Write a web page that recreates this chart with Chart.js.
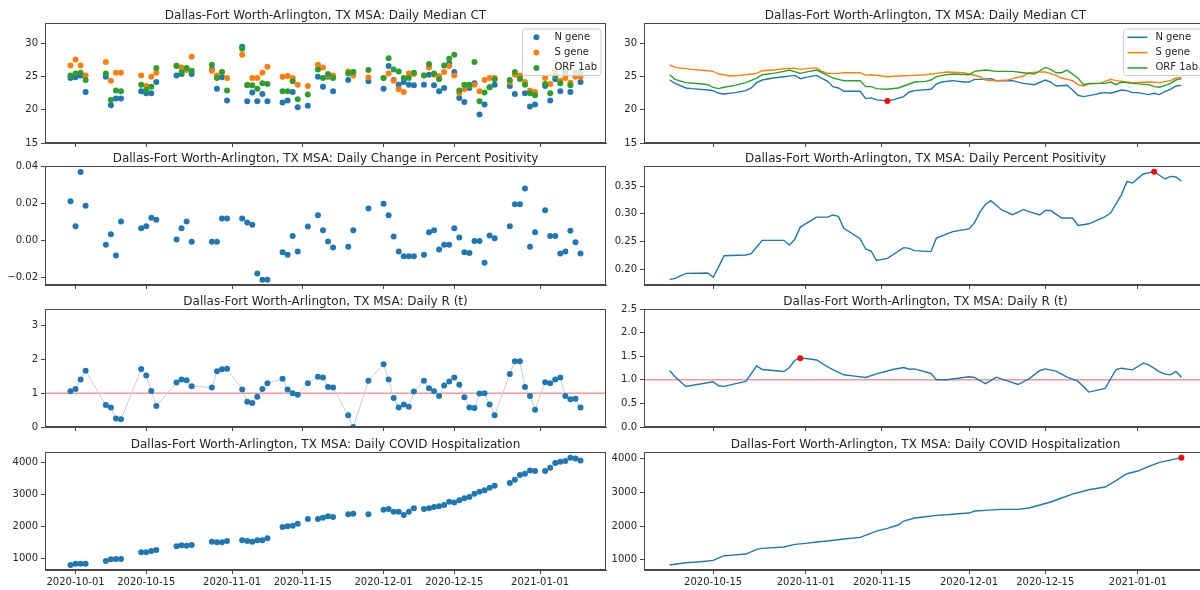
<!DOCTYPE html>
<html>
<head>
<meta charset="utf-8">
<script src="https://cdn.jsdelivr.net/npm/chart.js@4.4.0/dist/chart.umd.min.js"></script>
<style>
  html, body { margin: 0; padding: 0; background: #fff; width: 1200px; height: 590px; overflow: hidden; }
  canvas { position: absolute; }
</style>
</head>
<body>
<script>
// Dallas-Fort Worth-Arlington panels. x = days counted from 2020-10-01

// left column: daily samples
const sampleDays = [-1, 0, 1, 2, 6, 7, 8, 9, 13, 14, 15, 16, 20, 21, 22, 23, 27, 28, 29, 30,
  33, 34, 35, 36, 37, 38, 41, 42, 43, 44, 46, 48, 49, 50, 51, 54, 55, 58,
  61, 62, 63, 64, 65, 66, 67, 69, 70, 71, 72, 73, 74, 75, 76, 77, 78, 79, 80, 81, 82, 83,
  86, 87, 88, 89, 90, 91, 93, 94, 95, 96, 97, 98, 99, 100];

const ctN = [24.8, 24.9, 25.2, 22.7, 25.0, 20.7, 21.7, 21.7, 22.8, 22.5, 22.5, 24.2,
  25.2, 25.4, 26.2, 25.4, 26.1, 23.2, 24.9, 21.4, 29.5, 21.3, 22.6, 21.3, 22.4, 21.3,
  21.1, 21.4, 22.7, 20.4, 20.6, 25.0, 23.5, 25.0, 22.8, 24.5, 25.7, 24.3,
  23.2, 26.6, 24.5, 23.8, 24.2, 23.8, 23.7,
  23.8, 25.3, 23.7, 22.8, 23.3, 27.0, 25.7, 21.8, 21.2, 23.3, 24.0, 19.3, 20.8, 23.4, 23.8,
  23.6, 22.4, 24.7, 22.5, 20.5, 20.8, 23.6, 21.4, 24.6, 22.8, 25.5, 22.7, 25.2, 24.2];
const ctS = [26.7, 27.6, 26.7, 25.2, 27.2, 24.4, 25.6, 25.6, 25.2, 23.6, 25.0, 25.6,
  26.7, 26.4, 26.0, 28.0, 25.9, 25.2, 25.7, 24.8, 28.3, 23.8, 24.8, 24.8, 25.6, 26.5,
  25.0, 25.1, 24.8, 23.8, 23.6, 26.8, 26.4, 25.2, 25.2, 25.8, 25.2, 24.9,
  24.8, 25.5, 24.4, 23.1, 22.7, 25.5, 25.4,
  25.2, 26.4, 25.3, 25.1, 25.7, 26.6, 25.2, 22.5, 23.1, 23.7, 23.8, 22.8, 24.5, 24.8, 24.8,
  24.2, 25.3, 25.2, 24.2, 22.9, 22.7, 24.8, 23.9, 25.9, 24.4, 24.8, 24.1, 25.0, 25.0];
const ctORF = [25.2, 25.5, 25.6, 24.5, 25.5, 21.5, 22.9, 22.8, 23.8, 23.0, 23.5, 26.3,
  26.6, 25.7, 26.3, 25.9, 26.8, 24.8, 25.7, 22.9, 29.2, 23.7, 23.7, 23.2, 24.0, 23.9,
  22.8, 22.8, 24.3, 21.6, 22.3, 26.1, 24.8, 25.4, 24.8, 25.5, 25.7, 26.0,
  24.8, 27.8, 26.1, 25.8, 24.8, 24.8, 25.6,
  25.2, 26.9, 25.5, 24.6, 26.7, 27.7, 28.3, 22.9, 23.8, 23.8, 27.2, 21.3, 22.6, 23.4, 24.6,
  24.5, 25.7, 24.7, 23.8, 22.5, 22.2, 23.9, 22.5, 25.1, 24.0, 25.8, 23.7, 25.6, 25.6];
const positivityChange = [0.0211, 0.0076, 0.037, 0.0186, -0.0025, 0.0032, -0.0083, 0.0101,
  0.0065, 0.0076, 0.0121, 0.011, 0.0004, 0.0065, 0.0101, -0.0009, -0.0009, -0.0009, 0.0117, 0.0117,
  0.0117, 0.0096, 0.0083, -0.018, -0.0215, -0.0215, -0.0065, -0.0079, 0.0023, -0.0061,
  0.0074, 0.0135, 0.0054, -0.0007, -0.004, -0.0036, 0.0054, 0.0171,
  0.0197, 0.0135, 0.002, -0.0061, -0.0087, -0.0087, -0.0087,
  -0.0079, 0.0043, 0.0054, -0.0051, -0.0025, -0.0025, 0.0065, 0.0014, -0.0065, -0.0069,
  -0.0004, -0.0004, -0.0123, 0.0025, 0.0011,
  0.0076, 0.0195, 0.0195, 0.028, -0.0036, 0.0043, 0.0162, 0.0022, 0.0022, -0.0072,
  -0.0061, 0.0051, -0.0011, -0.0072];
const rtDaily = [1.06, 1.13, 1.41, 1.67, 0.65, 0.58, 0.25, 0.23, 1.72, 1.53, 1.07, 0.62,
  1.32, 1.41, 1.39, 1.21, 1.17, 1.65, 1.71, 1.73, 1.11, 0.75, 0.71, 0.9, 1.13, 1.3,
  1.43, 1.11, 1.0, 0.96, 1.3, 1.49, 1.47, 1.19, 1.17, 0.35, 0.0, 1.37,
  1.86, 1.41, 0.86, 0.58, 0.67, 0.6, 1.05,
  1.37, 1.15, 1.06, 0.92, 1.23, 1.35, 1.47, 1.25, 0.88, 0.58, 0.56, 0.99, 1.0, 0.67, 0.35,
  1.57, 1.95, 1.95, 1.19, 0.92, 0.51, 1.33, 1.3, 1.41, 1.47, 0.92, 0.82, 0.84, 0.58];
const hospDaily = [791, 833, 833, 833, 916, 969, 979, 979, 1188, 1188, 1230, 1261,
  1376, 1408, 1397, 1418, 1522, 1502, 1502, 1543, 1564, 1543, 1522, 1564, 1564, 1627,
  1982, 2003, 2024, 2087, 2233, 2233, 2275, 2317, 2296, 2379, 2400, 2379,
  2526, 2547, 2463, 2463, 2358, 2463, 2567,
  2547, 2567, 2609, 2630, 2672, 2776, 2755, 2818, 2881, 2923, 3027, 3090, 3132, 3215, 3278,
  3362, 3466, 3612, 3654, 3759, 3738, 3738, 3842, 3989, 4031, 4051, 4155, 4134, 4072];

// right column: smoothed series, [day, value]
const avgCtN = [[6,24.5],[7,24.0],[9,23.3],[10,23.2],[13,23.0],[14,22.9],[15,22.5],[16,22.4],[18,22.6],
  [20,22.9],[21,23.3],[22,24.1],[23,24.5],[25,24.8],[27,25.0],[29,25.2],[30,24.7],[31,24.9],[33,25.2],
  [35,24.3],[36,23.5],[37,23.3],[38,22.8],[41,22.8],[42,21.7],[43,21.8],[44,21.5],[46,21.35],[47,21.5],
  [49,22.0],[50,22.7],[51,22.9],[54,23.1],[55,23.9],[56,24.2],[58,24.4],[60,24.2],[61,24.2],[62,24.6],
  [63,24.6],[65,24.7],[66,24.4],[69,24.4],[71,24.0],[73,23.8],[75,24.5],[76,24.2],[77,23.6],[79,23.7],
  [80,23.0],[81,22.2],[82,22.0],[84,22.3],[85,22.5],[86,22.6],[87,22.5],[89,23.0],[90,22.9],[91,22.6],
  [92,22.6],[94,22.3],[95,22.5],[96,22.3],[97,22.8],[98,23.1],[99,23.6],[100,23.7]];
const avgCtS = [[6,26.8],[7,26.4],[10,26.1],[13,25.9],[14,25.8],[15,25.4],[16,25.3],[17,25.1],[19,25.2],
  [21,25.4],[22,25.5],[23,25.9],[25,26.0],[27,26.2],[29,26.3],[30,26.1],[32,26.3],[33,26.3],[34,25.8],
  [35,25.5],[37,25.5],[38,25.6],[41,25.6],[42,25.2],[43,25.3],[45,25.1],[46,25.0],[48,25.1],[51,25.2],
  [53,25.3],[55,25.5],[57,25.7],[60,25.6],[61,25.4],[63,25.0],[64,24.5],[66,24.4],[68,24.5],[69,24.7],
  [71,25.1],[72,25.6],[74,25.7],[75,25.7],[77,25.2],[78,24.8],[80,24.4],[81,23.8],[82,23.6],[83,23.9],
  [85,24.0],[86,24.3],[87,24.6],[88,24.4],[90,24.2],[91,24.1],[94,24.2],[96,24.1],[98,24.4],[99,24.8],[100,24.9]];
const avgCtORF = [[6,25.3],[7,24.6],[9,24.1],[12,23.9],[13,23.8],[14,23.4],[15,23.2],[16,23.4],[18,23.7],
  [20,24.1],[22,24.8],[23,25.3],[25,25.5],[27,25.8],[28,26.0],[30,25.5],[31,25.7],[33,26.0],[34,25.6],
  [36,24.8],[37,24.6],[38,24.4],[41,24.4],[42,23.5],[43,23.5],[44,23.2],[46,23.1],[48,23.3],[49,23.6],
  [51,24.2],[53,24.3],[54,24.5],[55,25.0],[56,25.2],[58,25.4],[61,25.3],[62,25.8],[64,26.0],[66,25.8],
  [69,25.8],[71,25.6],[73,25.4],[74,25.9],[75,26.4],[76,26.1],[77,25.6],[78,25.6],[79,26.0],[81,24.8],
  [82,23.8],[83,24.0],[86,24.0],[87,24.2],[88,23.8],[89,24.2],[91,24.0],[94,23.8],[95,23.5],[96,23.4],
  [97,23.7],[98,24.0],[99,24.5],[100,24.7]];
const avgPositivity = [[6,0.1807],[7,0.183],[9,0.192],[13,0.1927],[14,0.185],[15,0.204],[16,0.224],
  [20,0.2254],[21,0.228],[23,0.252],[27,0.252],[28,0.2435],[29,0.2538],[30,0.276],[33,0.294],[35,0.294],
  [36,0.298],[37,0.2955],[38,0.2738],[41,0.255],[42,0.2363],[43,0.2327],[44,0.2157],[46,0.2193],
  [49,0.2387],[50,0.2375],[51,0.2333],[54,0.2315],[55,0.256],[58,0.2677],[61,0.2726],[62,0.284],
  [63,0.303],[64,0.317],[65,0.324],[67,0.307],[69,0.2986],[71,0.308],[72,0.304],[74,0.298],[75,0.306],
  [76,0.306],[78,0.2925],[80,0.2925],[81,0.279],[83,0.282],[86,0.295],[87,0.3016],[88,0.3185],
  [89,0.335],[90,0.3584],[91,0.356],[93,0.3723],[95,0.3765],[97,0.3633],[98,0.368],[99,0.3669],[100,0.3596]];
const avgRt = [[6,1.197],[7,1.063],[9,0.86],[14,0.958],[15,0.873],[16,0.86],[20,0.965],[22,1.296],
  [23,1.218],[27,1.176],[28,1.26],[29,1.415],[30,1.458],[31,1.451],[33,1.42],[35,1.275],[36,1.218],
  [38,1.106],[40,1.077],[42,1.05],[44,1.127],[47,1.218],[49,1.26],[50,1.225],[51,1.232],[54,1.134],
  [55,1.0],[57,1.0],[61,1.063],[62,1.05],[64,0.92],[66,1.056],[70,0.9],[72,1.02],[74,1.197],[75,1.232],
  [77,1.183],[79,1.056],[81,0.97],[83,0.74],[86,0.817],[88,1.218],[89,1.246],[91,1.211],[93,1.352],
  [94,1.317],[96,1.169],[97,1.12],[98,1.106],[99,1.176],[100,1.056]];
const avgHosp = [[6,842],[9,911],[11,931],[13,960],[14,980],[16,1119],[17,1129],[20,1168],[22,1307],
  [23,1337],[27,1376],[29,1455],[31,1485],[33,1525],[35,1554],[38,1614],[41,1663],[44,1851],[46,1931],
  [48,2030],[49,2149],[51,2238],[53,2277],[55,2317],[57,2337],[59,2366],[61,2386],[62,2446],[64,2465],
  [67,2495],[70,2495],[72,2535],[74,2624],[76,2713],[78,2832],[80,2950],[83,3079],[86,3158],[88,3347],
  [90,3554],[92,3634],[94,3772],[96,3891],[100,4030]];

// ticks
const leftTickDays = [0, 14, 31, 45, 61, 75, 92];
const rightTickDays = [14, 31, 45, 61, 75, 92];
const ctTicks = [15, 20, 25, 30];
const changeTicks = [-0.02, 0, 0.02, 0.04];
const positivityTicks = [0.20, 0.25, 0.30, 0.35];
const rtLeftTicks = [0, 1, 2, 3];
const rtRightTicks = [0, 0.5, 1, 1.5, 2, 2.5];
const hospTicks = [1000, 2000, 3000, 4000];
const rtThreshold = 1;

const REGION = 'Dallas-Fort Worth-Arlington, TX MSA: ';
const BLUE = '#1f77b4', ORANGE = '#ff7f0e', GREEN = '#2ca02c';
const INK = '#262626', SPINE = '#4a4a4a';
const DAY0 = Date.UTC(2020, 9, 1);

Chart.defaults.font.family = "'DejaVu Sans', sans-serif";
Chart.defaults.font.size = 10;
Chart.defaults.color = INK;

function dayLabel(d) {
  return new Date(DAY0 + d * 86400000).toISOString().slice(0, 10);
}
function fromDaily(vals) {
  return sampleDays.map((d, i) => ({ x: d, y: vals[i] }));
}
function fromPairs(pairs) {
  return pairs.map(p => ({ x: p[0], y: p[1] }));
}
function extreme(pairs, useMin) {
  let best = pairs[0];
  pairs.forEach(p => { if (useMin ? p[1] < best[1] : p[1] > best[1]) best = p; });
  return [{ x: best[0], y: best[1] }];
}
function minusFmt(digits) {
  return v => (v < 0 ? '\u2212' : '') + Math.abs(v).toFixed(digits);
}

function dots(label, data, color, order) {
  return { label, data, backgroundColor: color, borderColor: color, pointRadius: 3,
    pointBorderWidth: 0, pointHoverRadius: 3, order };
}
function line(label, data, color, order) {
  return { label, data, showLine: true, borderColor: color, backgroundColor: color,
    borderWidth: 1.4, pointRadius: 0, pointHoverRadius: 0, order };
}
function redDot(data) {
  return { data, backgroundColor: 'red', pointRadius: 3, pointBorderWidth: 0, order: -1 };
}

// title, legend, frame and reference line
const panelDecor = {
  id: 'panelDecor',
  beforeDatasetsDraw(chart, args, opts) {
    if (opts.refLine == null) return;
    const { ctx, chartArea: a } = chart;
    const y = chart.scales.y.getPixelForValue(opts.refLine);
    ctx.save();
    ctx.strokeStyle = 'rgba(255,0,0,0.4)';
    ctx.lineWidth = 1.5;
    ctx.beginPath(); ctx.moveTo(a.left, y); ctx.lineTo(a.right, y); ctx.stroke();
    ctx.restore();
  },
  afterDraw(chart, args, opts) {
    const { ctx, chartArea: a } = chart;
    ctx.save();
    ctx.strokeStyle = SPINE;
    ctx.lineWidth = 1;
    ctx.strokeRect(Math.round(a.left) + 0.5, Math.round(a.top) + 0.5,
      Math.round(a.right - a.left) - 1, Math.round(a.bottom - a.top) - 1);

    ctx.fillStyle = INK;
    ctx.font = "12px 'DejaVu Sans'";
    ctx.textAlign = 'center';
    ctx.textBaseline = 'alphabetic';
    ctx.fillText(opts.title, (a.left + a.right) / 2, a.top - 4);

    if (opts.legend) {
      const items = chart.data.datasets.filter(d => d.label);
      ctx.font = "10px 'DejaVu Sans'";
      const tw = Math.max(...items.map(d => ctx.measureText(d.label).width));
      const w = 4 + 20 + 8 + tw + 4, h = 16 + (items.length - 1) * 15.3;
      const x = a.right - 5 - w, y = a.top + 6;
      ctx.beginPath();
      ctx.roundRect(x, y, w, h, 3);
      ctx.fillStyle = 'rgba(255,255,255,0.8)';
      ctx.fill();
      ctx.strokeStyle = '#cccccc';
      ctx.stroke();
      items.forEach((d, i) => {
        const cy = y + 8.3 + i * 15.3;
        if (opts.legend === 'dot') {
          ctx.fillStyle = d.backgroundColor;
          ctx.beginPath(); ctx.arc(x + 14, cy, 3, 0, Math.PI * 2); ctx.fill();
        } else {
          ctx.strokeStyle = d.borderColor;
          ctx.lineWidth = 1.5;
          ctx.beginPath(); ctx.moveTo(x + 4, cy); ctx.lineTo(x + 24, cy); ctx.stroke();
        }
        ctx.fillStyle = INK;
        ctx.textAlign = 'left';
        ctx.textBaseline = 'middle';
        ctx.fillText(d.label, x + 32, cy);
      });
    }
    ctx.restore();
  }
};

const rowBands = [[23, 143], [166, 285], [309, 427], [452, 570]];
const columns = [
  { cx: 0, cw: 620, L: 45, R: 606, xmin: -6.05, xmax: 105.05, ticks: leftTickDays },
  { cx: 600, cw: 615, L: 644, R: 1207, xmin: 1.3, xmax: 104.7, ticks: rightTickDays }
];

function panel(col, row, title, datasets, y, extra) {
  const g = columns[col];
  const [T, B] = rowBands[row];
  const lastRow = row === 3;
  const xH = lastRow ? 18 : 5;
  const cy = T - 22, ch = B - T + 46;
  const cv = document.createElement('canvas');
  cv.width = g.cw; cv.height = ch;
  cv.style.left = g.cx + 'px'; cv.style.top = cy + 'px';
  document.body.appendChild(cv);

  new Chart(cv, {
    type: 'scatter',
    data: { datasets },
    options: {
      responsive: false,
      animation: false,
      devicePixelRatio: 1,
      layout: { padding: { left: g.L - g.cx - 40, right: g.cx + g.cw - g.R, top: 22, bottom: ch - 22 - (B - T) - xH } },
      scales: {
        x: {
          type: 'linear', min: g.xmin, max: g.xmax,
          afterBuildTicks: s => { s.ticks = g.ticks.map(v => ({ value: v })); },
          afterFit: s => { s.height = xH; },
          ticks: { display: lastRow, autoSkip: false, maxRotation: 0, padding: 2, color: INK,
            callback: v => dayLabel(v) },
          grid: { drawOnChartArea: false, tickLength: 4, color: SPINE },
          border: { color: SPINE }
        },
        y: {
          min: y.min, max: y.max,
          afterBuildTicks: s => { s.ticks = y.ticks.map(v => ({ value: v })); },
          afterFit: s => { s.width = 40; },
          ticks: { padding: 3, color: INK, callback: y.fmt },
          grid: { drawOnChartArea: false, tickLength: 4, color: SPINE },
          border: { color: SPINE }
        }
      },
      plugins: {
        legend: { display: false },
        tooltip: { enabled: false },
        panelDecor: Object.assign({ title: REGION + title }, extra || {})
      }
    },
    plugins: [panelDecor]
  });
}

// left column: daily values
panel(0, 0, 'Daily Median CT', [
  dots('N gene', fromDaily(ctN), BLUE, 2),
  dots('S gene', fromDaily(ctS), ORANGE, 1),
  dots('ORF 1ab', fromDaily(ctORF), GREEN, 0)
], { min: 15, max: 33.1, ticks: ctTicks, fmt: v => String(v) }, { legend: 'dot' });

panel(0, 1, 'Daily Change in Percent Positivity', [
  dots(null, fromDaily(positivityChange), BLUE, 0)
], { min: -0.0243, max: 0.0402, ticks: changeTicks, fmt: minusFmt(2) });

panel(0, 2, 'Daily R (t)', [
  Object.assign(dots(null, fromDaily(rtDaily), BLUE, 0), { showLine: true, borderColor: '#cccccc', borderWidth: 1 })
], { min: 0, max: 3.5, ticks: rtLeftTicks, fmt: v => String(v) }, { refLine: rtThreshold });

panel(0, 3, 'Daily COVID Hospitalization', [
  dots(null, fromDaily(hospDaily), BLUE, 0)
], { min: 633, max: 4336, ticks: hospTicks, fmt: v => String(v) });

// right column: smoothed values with the extreme point in red
panel(1, 0, 'Daily Median CT', [
  line('N gene', fromPairs(avgCtN), BLUE, 2),
  line('S gene', fromPairs(avgCtS), ORANGE, 1),
  line('ORF 1ab', fromPairs(avgCtORF), GREEN, 0),
  redDot(extreme(avgCtN, true))
], { min: 15, max: 33.1, ticks: ctTicks, fmt: v => String(v) }, { legend: 'line' });

panel(1, 1, 'Daily Percent Positivity', [
  line(null, fromPairs(avgPositivity), BLUE, 0),
  redDot(extreme(avgPositivity, false))
], { min: 0.171, max: 0.3868, ticks: positivityTicks, fmt: v => v.toFixed(2) });

panel(1, 2, 'Daily R (t)', [
  line(null, fromPairs(avgRt), BLUE, 0),
  redDot(extreme(avgRt, false))
], { min: 0, max: 2.5, ticks: rtRightTicks, fmt: v => v.toFixed(1) }, { refLine: rtThreshold });

panel(1, 3, 'Daily COVID Hospitalization', [
  line(null, fromPairs(avgHosp), BLUE, 0),
  redDot(extreme(avgHosp, false))
], { min: 694, max: 4199, ticks: hospTicks, fmt: v => String(v) });
</script>
</body>
</html>
